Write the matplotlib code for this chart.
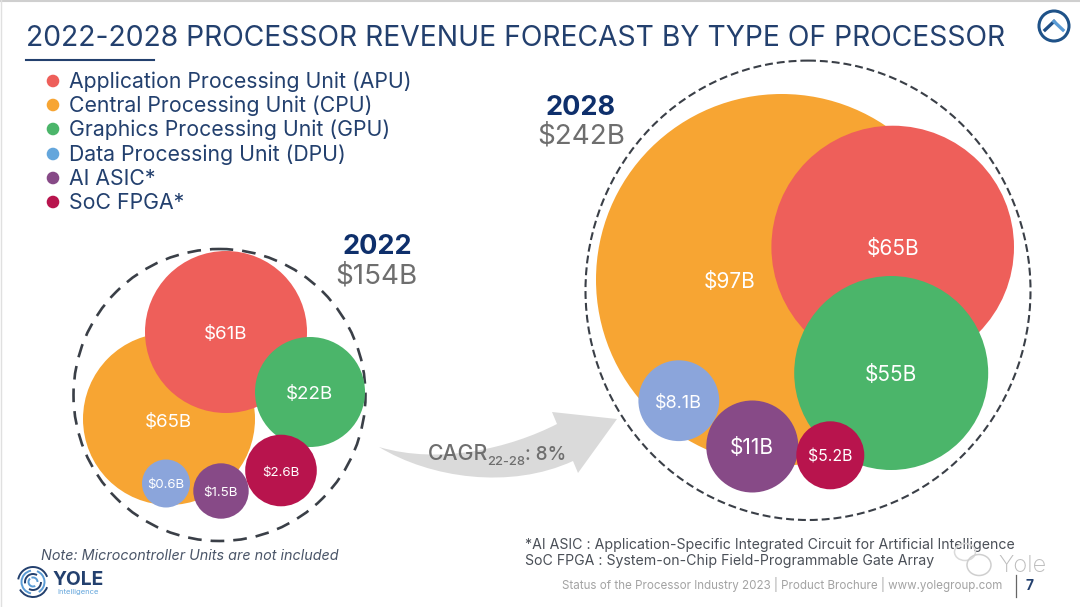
import matplotlib
matplotlib.use("Agg")
import matplotlib.pyplot as plt
from matplotlib.patches import Arc, Circle, Ellipse, PathPatch
from matplotlib.path import Path

FONT = "Inter"
NAVY = "#23406E"
DARK = "#0E2F6B"
GREY = "#6E6E6E"

# ---- data ----
categories = ["Application Processing Unit (APU)", "Central Processing Unit (CPU)",
              "Graphics Processing Unit (GPU)", "Data Processing Unit (DPU)",
              "AI ASIC*", "SoC FPGA*"]
labels_2022 = ["$61B", "$65B", "$22B", "$0.6B", "$1.5B", "$2.6B"]
labels_2028 = ["$65B", "$97B", "$55B", "$8.1B", "$11B", "$5.2B"]
total_2022 = "$154B"
total_2028 = "$242B"

# ---- layout (pixels) ----
colors = ["#EE5F5A", "#F7A533", "#4BB56A", "#8BA5DB", "#874A87", "#B8144D"]
legend_colors = ["#EE5F5A", "#F7A533", "#4BB56A", "#64A6DC", "#874A87", "#B8144D"]
legend_y = [80, 104, 128, 153, 177, 201]
circles_2022 = [(226, 332, 81), (169, 419, 86), (310, 392, 55), (166, 483.5, 24), (221, 491, 27.7), (281, 470.5, 35.8)]
circles_2028 = [(892.7, 247, 121.3), (781.7, 279.7, 185.7), (891.2, 373, 97), (678.8, 400.7, 40.4), (752.3, 446.5, 46), (830.3, 455.3, 34)]
text_2022 = [(225.7, 332.5, 13.5), (168, 420, 13.5), (309, 392, 13.5), (166, 483.5, 9.5), (221, 491, 9.6), (281, 470.7, 9.6)]
text_2028 = [(892.7, 247, 15), (730, 280, 15), (891, 373, 15), (678.7, 401, 13), (752, 446.7, 15), (830, 455.5, 11.4)]
order = [1, 0, 2, 3, 4, 5]

fig = plt.figure(figsize=(10.8, 6.07), dpi=100, facecolor="white")
ax = fig.add_axes([0, 0, 1, 1])
ax.set_xlim(0, 1080)
ax.set_ylim(607, 0)
ax.axis("off")


def T(x, yc, s, fs, color, ha="left", **kw):
    """Text whose capitals are centred on pixel row yc."""
    ax.text(x, yc + 0.505 * fs, s, family=FONT, fontsize=fs, color=color, ha=ha, va="baseline", **kw)


# slide edges
ax.plot([0, 1080], [1, 1], color="#CFCFCF", lw=1.5)
ax.plot([1, 1], [0, 607], color="#E0E0E0", lw=1.0)

# title
T(26, 35.5, "2022-2028 PROCESSOR REVENUE FORECAST BY TYPE OF PROCESSOR", 20.35, NAVY)
ax.plot([26, 154], [59.5, 59.5], color=NAVY, lw=1.5)

# nav icon
ax.add_patch(Circle((1054, 26), 15, fill=False, ec="#1F5288", lw=2.2))
ax.plot([1045, 1054], [30, 21.5], color="#1F4E85", lw=2.4)
ax.plot([1054, 1063], [21.5, 30], color="#5A9BD5", lw=2.4)

# legend
for y, c, name in zip(legend_y, legend_colors, categories):
    ax.add_patch(Circle((53, y + 1), 6.3, color=c, lw=0))
    T(69, y, name, 15.3, NAVY)

# dashed rings
ax.add_patch(Circle((219.5, 395), 146, fill=False, ec="#3A3F47", lw=1.9, ls=(0, (5.2, 3.4))))
ax.add_patch(Ellipse((808, 290.3), 445, 459.4, fill=False, ec="#3A3F47", lw=1.5, ls=(0, (3.8, 1.9))))

# bubbles
for group, labs, pos in ((circles_2022, labels_2022, text_2022),
                         (circles_2028, labels_2028, text_2028)):
    for i in order:
        x, y, r = group[i]
        ax.add_patch(Circle((x, y), r, color=colors[i], lw=0))
    for lab, (x, y, fs) in zip(labs, pos):
        ax.text(x, y + 0.505 * fs, lab, family=FONT, fontsize=fs, color="white", ha="center", va="baseline", zorder=6)

# year headings
T(377, 244, "2022", 19.5, DARK, ha="center", fontweight="bold")
T(376, 273, total_2022, 20, GREY, ha="center")
T(580.7, 105, "2028", 19.5, DARK, ha="center", fontweight="bold")
T(581, 133.5, total_2028, 20, GREY, ha="center")

# arrow
V = [(379, 447), (430, 478), (510, 490), (573, 461), (578, 473), (617, 419), (552, 412), (557, 424),
     (510, 448), (440, 465), (379, 447)]
C = [Path.MOVETO, Path.CURVE4, Path.CURVE4, Path.CURVE4, Path.LINETO, Path.LINETO, Path.LINETO, Path.LINETO,
     Path.CURVE4, Path.CURVE4, Path.CURVE4]
ax.add_patch(PathPatch(Path(V, C), fc="#DADADA", ec="none"))
T(428, 452.7, "CAGR", 15.3, GREY, fontweight="medium")
T(487, 460.5, "22-28", 9.3, GREY, fontweight="medium")
T(525, 452.7, ": 8%", 13.6, GREY, fontweight="medium")

# notes
T(41, 555, "Note: Microcontroller Units are not included", 10.35, "#4A5568", style="italic")
T(525, 543.5, "*AI ASIC : Application-Specific Integrated Circuit for Artificial Intelligence", 10.17, "#4A4F57")
T(525, 559.5, "SoC FPGA : System-on-Chip Field-Programmable Gate Array", 10.17, "#4A4F57")
T(562, 585, "Status of the Processor Industry 2023 | Product Brochure | www.yolegroup.com", 8.35, "#A3A3A3")
ax.plot([1016, 1016], [575, 597], color="#666666", lw=0.9)
T(1030, 585, "7", 10, NAVY, ha="center", fontweight="bold")

# logo
for r, c, spans in ((15, "#23406E", [(20, 150), (190, 340)]),
                    (11.5, "#5A9BD5", [(100, 260), (290, 60)]),
                    (8, "#23406E", [(0, 120), (170, 300)]),
                    (4.5, "#5A9BD5", [(60, 230), (250, 360)])):
    for a, b in spans:
        ax.add_patch(Arc((33, 582), 2 * r, 2 * r, theta1=a, theta2=b, ec=c, lw=1.4))
T(53, 578.5, "YOLE", 13.8, NAVY, fontweight="bold")
T(57, 591, "Intelligence", 5.5, "#64A6DC")

# watermark
ax.add_patch(Ellipse((965, 552), 21, 17, fill=False, ec="#DADADA", lw=1.1, zorder=8))
ax.add_patch(Ellipse((979, 565), 24, 21, fill=False, ec="#CFCFCF", lw=1.1, zorder=8))
ax.text(998, 572, "Yole", family=FONT, fontsize=17, fontweight="light", color="#BDBDBD", ha="left", va="baseline", zorder=8)

fig.savefig("out.png", dpi=100, facecolor="white")
